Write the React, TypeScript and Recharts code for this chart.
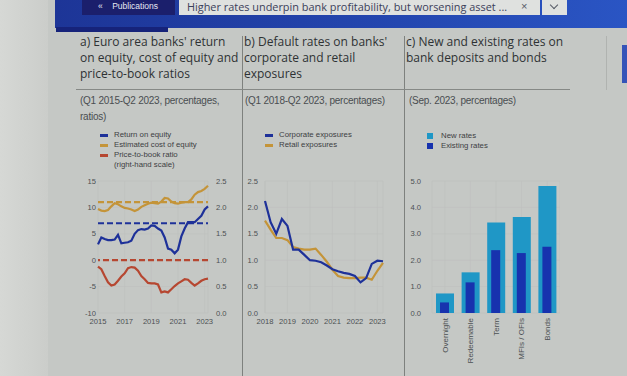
import React from 'react';
import { LineChart, Line, BarChart, Bar, XAxis, YAxis, CartesianGrid, ReferenceLine } from 'recharts';

// panel a: Q1 2015 - Q2 2023
const quartersA = [
  '2015Q1', '2015Q2', '2015Q3', '2015Q4', '2016Q1', '2016Q2', '2016Q3', '2016Q4',
  '2017Q1', '2017Q2', '2017Q3', '2017Q4', '2018Q1', '2018Q2', '2018Q3', '2018Q4',
  '2019Q1', '2019Q2', '2019Q3', '2019Q4', '2020Q1', '2020Q2', '2020Q3', '2020Q4',
  '2021Q1', '2021Q2', '2021Q3', '2021Q4', '2022Q1', '2022Q2', '2022Q3', '2022Q4',
  '2023Q1', '2023Q2',
];
const returnOnEquity = [3.0, 4.3, 4.0, 3.8, 3.8, 3.9, 4.8, 3.2, 3.3, 3.4, 3.7, 5.0, 5.7, 5.9, 5.8, 6.0, 6.6, 6.5, 6.0, 5.6, 4.3, 2.2, 2.0, 1.3, 2.0, 4.5, 6.0, 7.2, 7.2, 7.2, 7.8, 8.4, 9.6, 10.2];
const costOfEquity = [9.7, 9.4, 9.3, 9.5, 10.2, 10.8, 10.6, 10.2, 9.9, 9.8, 9.6, 9.3, 9.6, 10.1, 10.4, 10.7, 10.9, 10.8, 10.7, 11.1, 11.8, 11.7, 11.1, 10.8, 10.7, 10.9, 11.0, 11.0, 11.5, 12.4, 12.9, 13.1, 13.5, 14.1];
const priceToBook = [0.88, 0.83, 0.70, 0.58, 0.52, 0.54, 0.61, 0.69, 0.75, 0.85, 0.87, 0.86, 0.80, 0.70, 0.64, 0.57, 0.56, 0.56, 0.54, 0.39, 0.41, 0.39, 0.45, 0.51, 0.56, 0.60, 0.64, 0.63, 0.57, 0.52, 0.56, 0.61, 0.64, 0.65];
const roeAverage = 7;
const coeAverage = 11;
const pbAverage = 1.0;
const leftTicksA = [-10, -5, 0, 5, 10, 15];
const rightTicksA = [0, 0.5, 1, 1.5, 2, 2.5];

// panel b: Q1 2018 - Q2 2023
const quartersB = [
  '2018Q1', '2018Q2', '2018Q3', '2018Q4', '2019Q1', '2019Q2', '2019Q3', '2019Q4',
  '2020Q1', '2020Q2', '2020Q3', '2020Q4', '2021Q1', '2021Q2', '2021Q3', '2021Q4',
  '2022Q1', '2022Q2', '2022Q3', '2022Q4', '2023Q1', '2023Q2',
];
const corporate = [2.12, 1.72, 1.50, 1.78, 1.65, 1.20, 1.20, 1.10, 1.00, 0.99, 0.96, 0.90, 0.83, 0.79, 0.76, 0.74, 0.70, 0.58, 0.66, 0.93, 0.99, 0.98];
const retail = [1.75, 1.58, 1.42, 1.42, 1.38, 1.25, 1.22, 1.20, 1.20, 1.22, 1.10, 0.97, 0.82, 0.70, 0.67, 0.66, 0.66, 0.67, 0.67, 0.63, 0.80, 0.95];
const ticksB = [0, 0.5, 1, 1.5, 2, 2.5];

// panel c: Sep. 2023
const instruments = ['Overnight', 'Redeemable', 'Term', 'MFIs / OFIs', 'Bonds'];
const newRates = [0.74, 1.54, 3.43, 3.64, 4.81];
const existingRates = [0.40, 1.16, 2.38, 2.27, 2.51];
const ticksC = [0, 0.5, 1, 1.5, 2, 2.5, 3, 3.5, 4, 4.5, 5];

const dataA = quartersA.map((q, i) => ({ q, roe: returnOnEquity[i], coe: costOfEquity[i], pb: priceToBook[i] }));
const dataB = quartersB.map((q, i) => ({ q, corp: corporate[i], retail: retail[i] }));
const dataC = instruments.map((name, i) => ({ name, newRate: newRates[i], existing: existingRates[i] }));

const BLUE = '#1e3199';
const GOLD = '#c49439';
const RED = '#b64731';
const NEW = '#1f97c6';
const OLD = '#1732ae';
const GRID = '#bdc0bd';
const sans = 'Liberation Sans, Arial, sans-serif';
const titleFont = '"Open Sans", "Noto Sans", sans-serif';
const tickStyle = { fontFamily: sans, fontSize: 7.6, fill: '#4c5053' };

const year = (v: string) => v.slice(0, 4);
const one = (v: number) => v.toFixed(1);

function RotTick({ x, y, payload }: any) {
  return (
    <text x={x} y={y} transform={`rotate(-90 ${x} ${y})`} textAnchor="end" dy="0.35em"
      style={{ fontFamily: sans, fontSize: 8, fill: '#4c5053' }}>
      {payload.value}
    </text>
  );
}

const abs = (left: number, top: number, extra: React.CSSProperties = {}): React.CSSProperties => ({
  position: 'absolute', left, top, whiteSpace: 'nowrap', ...extra,
});

const legendText: React.CSSProperties = { fontFamily: sans, fontSize: 7.8, color: '#3d4043', lineHeight: '10px' };

function LegendLine({ x, y, color, label }: { x: number; y: number; color: string; label: string }) {
  return (
    <>
      <div style={abs(x, y - 1.5, { width: 8, height: 3, background: color })} />
      <div style={abs(x + 14, y - 5, legendText)}>{label}</div>
    </>
  );
}

export default function App() {
  const titleStyle: React.CSSProperties = { fontFamily: titleFont, fontSize: 12, color: '#2e3234', lineHeight: '16px' };
  const subStyle: React.CSSProperties = { fontFamily: sans, fontSize: 10, color: '#4a4e51', lineHeight: '16px', letterSpacing: -0.25 };
  return (
    <div style={{ position: 'fixed', left: 0, top: 0, width: 627, height: 376, overflow: 'hidden', background: '#c5c8c5' }}>
      <div style={abs(0, 0, { width: 48, height: 376, background: 'linear-gradient(90deg, #d6d8d5, #cbcdca)' })} />
      {/* header */}
      <div style={abs(55, 0, { width: 572, height: 28, background: 'linear-gradient(90deg, #1d3597, #2447b0 60%, #2a55c4)' })} />
      <div style={abs(56, 27, { width: 112, height: 5, background: '#16237a' })} />
      <div style={abs(82, 0, { width: 93, height: 15, background: '#1b1f6c' })} />
      <div style={abs(98, 1, { fontFamily: sans, fontSize: 8.5, color: '#e6e8f2', lineHeight: '11px' })}>«&nbsp;&nbsp;&nbsp;&nbsp;Publications</div>
      <div style={abs(179, 0, { width: 361, height: 15, background: '#dfe1df' })} />
      <div style={abs(187, 0, { fontFamily: titleFont, fontSize: 10.9, color: '#3b405a', lineHeight: '13px' })}>
        Higher rates underpin bank profitability, but worsening asset ...
      </div>
      <div style={abs(521, 0, { fontFamily: sans, fontSize: 11, color: '#555a66', lineHeight: '13px' })}>×</div>
      <div style={abs(542, 0, { width: 25, height: 15, background: '#dfe1df' })} />
      <div style={abs(551, 2, { width: 5, height: 5, borderRight: '1.3px solid #555a66', borderBottom: '1.3px solid #555a66', transform: 'rotate(45deg)' })} />
      <div style={abs(622, 45, { width: 5, height: 38, background: '#3553b8' })} />

      {/* table lines */}
      <div style={abs(242, 36, { width: 1, height: 340, background: '#7e817e' })} />
      <div style={abs(404, 36, { width: 1, height: 340, background: '#7e817e' })} />
      <div style={abs(606, 36, { width: 1, height: 54, background: '#b0b3b0' })} />
      <div style={abs(76, 89, { width: 494, height: 1, background: '#868986' })} />

      {/* titles */}
      <div style={abs(80, 34, titleStyle)}>a) Euro area banks' return<br />on equity, cost of equity and<br />price-to-book ratios</div>
      <div style={abs(244, 34, titleStyle)}>b) Default rates on banks'<br />corporate and retail<br />exposures</div>
      <div style={abs(406, 34, titleStyle)}>c) New and existing rates on<br />bank deposits and bonds</div>
      <div style={abs(80, 93, subStyle)}>(Q1 2015-Q2 2023, percentages,<br />ratios)</div>
      <div style={abs(245, 93, subStyle)}>(Q1 2018-Q2 2023, percentages)</div>
      <div style={abs(409, 93, subStyle)}>(Sep. 2023, percentages)</div>

      {/* legends */}
      <LegendLine x={100} y={135} color={BLUE} label="Return on equity" />
      <LegendLine x={100} y={145} color={GOLD} label="Estimated cost of equity" />
      <LegendLine x={100} y={155} color={RED} label="Price-to-book ratio" />
      <div style={abs(114, 160, legendText)}>(right-hand scale)</div>
      <LegendLine x={265} y={135} color={BLUE} label="Corporate exposures" />
      <LegendLine x={265} y={145} color={GOLD} label="Retail exposures" />
      <div style={abs(427, 133, { width: 6, height: 6, background: NEW })} />
      <div style={abs(441, 131, legendText)}>New rates</div>
      <div style={abs(427, 143, { width: 6, height: 6, background: OLD })} />
      <div style={abs(441, 141, legendText)}>Existing rates</div>

      {/* chart a */}
      <div style={abs(70, 175)}>
        <LineChart width={170} height={158} data={dataA} margin={{ top: 6, right: 0, bottom: 0, left: 0 }}>
          <CartesianGrid stroke={GRID} strokeWidth={0.6} yAxisId="l" />
          <XAxis dataKey="q" interval={7} tickFormatter={year} axisLine={false} tickLine={false} tickSize={0} tickMargin={6} height={20} tick={tickStyle} />
          <YAxis yAxisId="l" domain={[-10, 15]} ticks={leftTicksA} axisLine={false} tickLine={false} tickSize={0} tickMargin={2} width={28} tick={tickStyle} />
          <YAxis yAxisId="r" orientation="right" domain={[0, 2.5]} ticks={rightTicksA} tickFormatter={one} axisLine={false} tickLine={false} tickSize={0} tickMargin={8} width={32} tick={tickStyle} />
          <ReferenceLine yAxisId="l" y={coeAverage} stroke={GOLD} strokeWidth={2.2} strokeDasharray="6 3" />
          <ReferenceLine yAxisId="l" y={roeAverage} stroke={BLUE} strokeWidth={2.2} strokeDasharray="6 3" />
          <ReferenceLine yAxisId="r" y={pbAverage} stroke={RED} strokeWidth={2.2} strokeDasharray="6 3" />
          <Line yAxisId="l" dataKey="coe" stroke={GOLD} strokeWidth={2.2} dot={false} isAnimationActive={false} />
          <Line yAxisId="l" dataKey="roe" stroke={BLUE} strokeWidth={2.2} dot={false} isAnimationActive={false} />
          <Line yAxisId="r" dataKey="pb" stroke={RED} strokeWidth={2.2} dot={false} isAnimationActive={false} />
        </LineChart>
      </div>

      {/* chart b */}
      <div style={abs(240, 175)}>
        <LineChart width={150} height={158} data={dataB} margin={{ top: 6, right: 7, bottom: 0, left: 0 }}>
          <CartesianGrid stroke={GRID} strokeWidth={0.6} />
          <XAxis dataKey="q" interval={3} tickFormatter={year} axisLine={false} tickLine={false} tickSize={0} tickMargin={6} height={20} tick={tickStyle} />
          <YAxis domain={[0, 2.5]} ticks={ticksB} tickFormatter={one} axisLine={false} tickLine={false} tickSize={0} tickMargin={7} width={25} tick={tickStyle} />
          <Line dataKey="retail" stroke={GOLD} strokeWidth={2.2} dot={false} isAnimationActive={false} />
          <Line dataKey="corp" stroke={BLUE} strokeWidth={2.2} dot={false} isAnimationActive={false} />
        </LineChart>
      </div>

      {/* chart c: existing-rate bars sit inside the new-rate bars via a hidden second axis */}
      <div style={abs(400, 175)}>
        <BarChart width={160} height={198} data={dataC} margin={{ top: 6, right: 0, bottom: 0, left: 0 }}>
          <CartesianGrid stroke={GRID} strokeWidth={0.6} xAxisId="n" />
          <XAxis xAxisId="e" dataKey="name" hide height={0} />
          <XAxis xAxisId="n" dataKey="name" interval={0} axisLine={false} tickLine={false} tickSize={0} tickMargin={5} height={60} tick={<RotTick />} />
          <YAxis domain={[0, 5]} ticks={ticksC} tickFormatter={one} axisLine={false} tickLine={false} tickSize={0} tickMargin={11} width={32} tick={tickStyle} />
          <Bar xAxisId="n" dataKey="newRate" fill={NEW} barSize={18} isAnimationActive={false} />
          <Bar xAxisId="e" dataKey="existing" fill={OLD} barSize={9} isAnimationActive={false} />
        </BarChart>
      </div>
    </div>
  );
}
